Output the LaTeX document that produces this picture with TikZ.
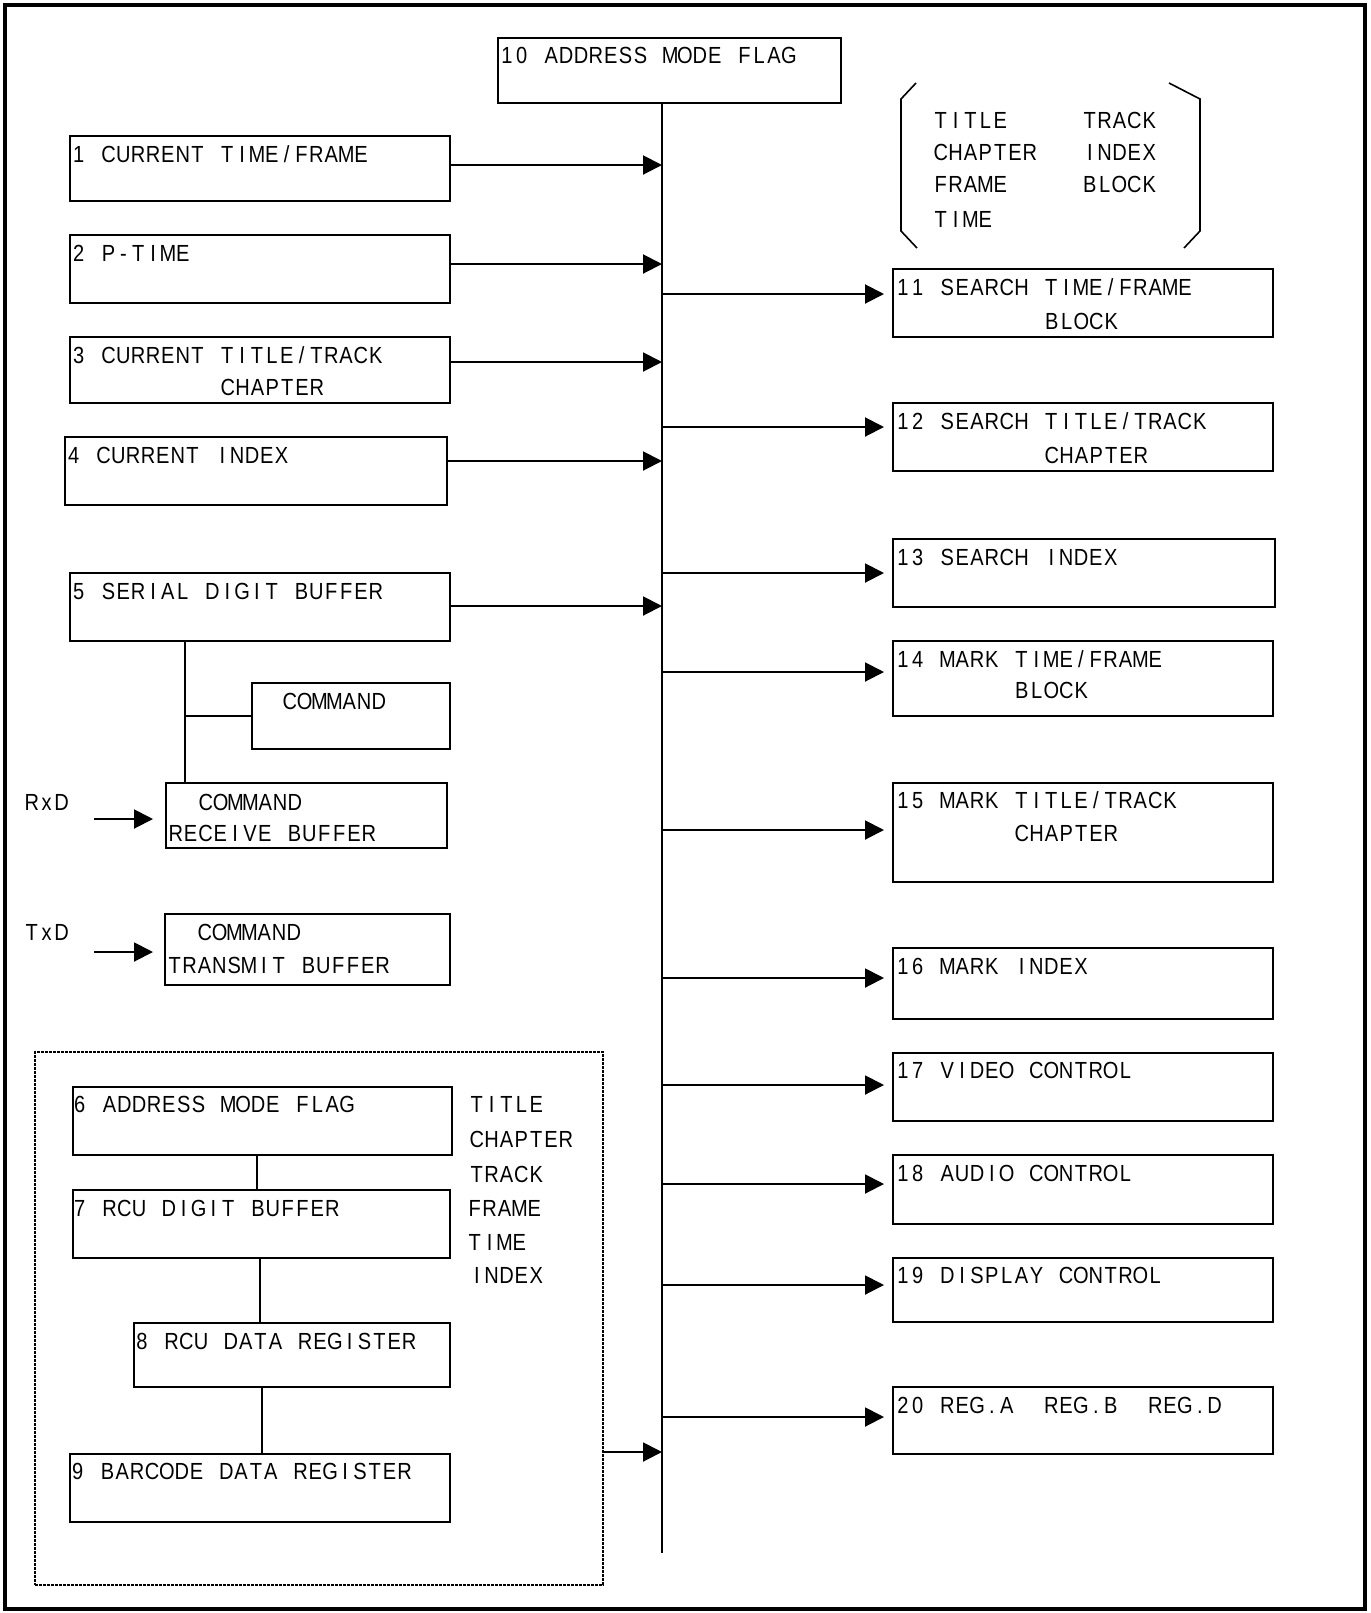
\documentclass[tikz,border=0pt]{standalone}
\usepackage{fontspec}
\newfontfamily\cellfont{Liberation Sans}[FakeStretch=0.86]
\usetikzlibrary{arrows.meta,fit}
% fixed-pitch lettering: every character sits centred in a cell of equal width
\makeatletter
\newdimen\cellpitch
\cellpitch=7.425pt
\def\cellend{\cellend}
\def\cellloop{\futurelet\cellnext\cellcheck}
\def\cellcheck{%
  \ifx\cellnext\cellend
    \expandafter\@gobble
  \else
    \ifx\cellnext\@sptoken
      \expandafter\expandafter\expandafter\cellspace
    \else
      \expandafter\expandafter\expandafter\cellchar
    \fi
  \fi}
\def\cellchar#1{\makebox[\cellpitch][c]{#1}\cellloop}
\@firstofone{\def\cellspace} {\hspace*{\cellpitch}\cellloop}
\newcommand\cells[1]{\cellloop#1\cellend}
\makeatother
\begin{document}
\begin{tikzpicture}[x=0.5pt,y=-0.5pt,
  box/.style={draw,line width=1pt,inner sep=0pt},
  lbl/.style={anchor=base west,inner sep=0pt,font=\cellfont\fontsize{11.66pt}{13pt}\selectfont},
  link/.style={line width=1pt},
  arr/.style={line width=1pt,-{Triangle[length=9.5pt,width=9.5pt]}},
  outarr/.style={arr,shorten >=4pt},
  brk/.style={line width=0.8pt},
  group/.style={draw,line width=1pt,inner sep=0pt,dash pattern=on 1.35pt off 0.65pt}]
\useasboundingbox (0,0) rectangle (1371,1613);
% outer frame
\draw[line width=1.75pt] (5,5) rectangle (1365,1609);

% ---------- boxes ----------
\node[box,fit={(498,38) (841,103)}] (b10) {};
\node[box,fit={(70,136) (450,201)}] (b1) {};
\node[box,fit={(70,235) (450,303)}] (b2) {};
\node[box,fit={(70,337) (450,403)}] (b3) {};
\node[box,fit={(65,437) (447,505)}] (b4) {};
\node[box,fit={(70,573) (450,641)}] (b5) {};
\node[box,fit={(252,683) (450,749)}] (bcmd) {};
\node[box,fit={(166,783) (447,848)}] (brx) {};
\node[box,fit={(165,914) (450,985)}] (btx) {};
\node[group,fit={(35,1052) (603,1585)}] (grp) {};
\node[box,fit={(73,1087) (452,1155)}] (b6) {};
\node[box,fit={(73,1190) (450,1258)}] (b7) {};
\node[box,fit={(134,1323) (450,1387)}] (b8) {};
\node[box,fit={(70,1454) (450,1522)}] (b9) {};
\node[box,fit={(893,269) (1273,337)}] (b11) {};
\node[box,fit={(893,403) (1273,471)}] (b12) {};
\node[box,fit={(893,539) (1275,607)}] (b13) {};
\node[box,fit={(893,641) (1273,716)}] (b14) {};
\node[box,fit={(893,783) (1273,882)}] (b15) {};
\node[box,fit={(893,948) (1273,1019)}] (b16) {};
\node[box,fit={(893,1053) (1273,1121)}] (b17) {};
\node[box,fit={(893,1155) (1273,1224)}] (b18) {};
\node[box,fit={(893,1258) (1273,1322)}] (b19) {};
\node[box,fit={(893,1387) (1273,1454)}] (b20) {};

% ---------- labels ----------
\node[lbl] (t10) at (499,63) {\cells{10 ADDRESS MODE FLAG}};
\node[lbl] (t1) at (71,162) {\cells{1 CURRENT TIME/FRAME}};
\node[lbl] (t2) at (71,261) {\cells{2 P-TIME}};
\node[lbl] (t3) at (71,363) {\cells{3 CURRENT TITLE/TRACK}};
\node[lbl] (t3b) at (220,395) {\cells{CHAPTER}};
\node[lbl] (t4) at (66,463) {\cells{4 CURRENT INDEX}};
\node[lbl] (t5) at (71,599) {\cells{5 SERIAL DIGIT BUFFER}};
\node[lbl] (tcmd) at (282,709) {\cells{COMMAND}};
\node[lbl] (trx) at (198,810) {\cells{COMMAND}};
\node[lbl] (trxb) at (168,841) {\cells{RECEIVE BUFFER}};
\node[lbl] (ttx) at (197,940) {\cells{COMMAND}};
\node[lbl] (ttxb) at (167,973) {\cells{TRANSMIT BUFFER}};
\node[lbl] (rxd) at (24,810) {\cells{RxD}};
\node[lbl] (txd) at (24,940) {\cells{TxD}};
\node[lbl] (t6) at (72,1112) {\cells{6 ADDRESS MODE FLAG}};
\node[lbl] (t7) at (72,1216) {\cells{7 RCU DIGIT BUFFER}};
\node[lbl] (t8) at (134,1349) {\cells{8 RCU DATA REGISTER}};
\node[lbl] (t9) at (70,1479) {\cells{9 BARCODE DATA REGISTER}};
\node[lbl] (m1) at (469,1112) {\cells{TITLE}};
\node[lbl] (m2) at (469,1147) {\cells{CHAPTER}};
\node[lbl] (m3) at (469,1182) {\cells{TRACK}};
\node[lbl] (m4) at (467,1216) {\cells{FRAME}};
\node[lbl] (m5) at (467,1250) {\cells{TIME}};
\node[lbl] (m6) at (469,1283) {\cells{INDEX}};
\node[lbl] (k1) at (933,128) {\cells{TITLE}};
\node[lbl] (k2) at (933,160) {\cells{CHAPTER}};
\node[lbl] (k3) at (933,192) {\cells{FRAME}};
\node[lbl] (k4) at (933,227) {\cells{TIME}};
\node[lbl] (k5) at (1082,128) {\cells{TRACK}};
\node[lbl] (k6) at (1082,160) {\cells{INDEX}};
\node[lbl] (k7) at (1082,192) {\cells{BLOCK}};
\node[lbl] (t11) at (895,295) {\cells{11 SEARCH TIME/FRAME}};
\node[lbl] (t11b) at (1044,329) {\cells{BLOCK}};
\node[lbl] (t12) at (895,429) {\cells{12 SEARCH TITLE/TRACK}};
\node[lbl] (t12b) at (1044,463) {\cells{CHAPTER}};
\node[lbl] (t13) at (895,565) {\cells{13 SEARCH INDEX}};
\node[lbl] (t14) at (895,667) {\cells{14 MARK TIME/FRAME}};
\node[lbl] (t14b) at (1014,698) {\cells{BLOCK}};
\node[lbl] (t15) at (895,808) {\cells{15 MARK TITLE/TRACK}};
\node[lbl] (t15b) at (1014,841) {\cells{CHAPTER}};
\node[lbl] (t16) at (895,974) {\cells{16 MARK INDEX}};
\node[lbl] (t17) at (895,1078) {\cells{17 VIDEO CONTROL}};
\node[lbl] (t18) at (895,1181) {\cells{18 AUDIO CONTROL}};
\node[lbl] (t19) at (895,1283) {\cells{19 DISPLAY CONTROL}};
\node[lbl] (t20) at (895,1413) {\cells{20 REG.A~~REG.B~~REG.D}};

% bracket around the address mode list
\draw[brk] (916,83) -- (901,99) -- (901,231) -- (917,248);
\draw[brk] (1169,83) -- (1200,99) -- (1200,231) -- (1184,248);

% ---------- bus ----------
\coordinate (busx) at (662,0);
\coordinate (busTop) at (busx |- b10.south);
\coordinate (busEnd) at (662,1553);
\draw[link] (busTop) -- (busEnd);

% inputs onto the bus
\coordinate (in1) at (662,165);
\coordinate (in2) at (662,264);
\coordinate (in3) at (662,362);
\coordinate (in4) at (662,461);
\coordinate (in5) at (662,606);
\coordinate (in9) at (662,1452);
\draw[arr] (b1.east |- in1) -- (in1);
\draw[arr] (b2.east |- in2) -- (in2);
\draw[arr] (b3.east |- in3) -- (in3);
\draw[arr] (b4.east |- in4) -- (in4);
\draw[arr] (b5.east |- in5) -- (in5);
\draw[arr] (grp.east |- in9) -- (in9);

% outputs from the bus
\coordinate (o11) at (662,294);
\coordinate (o12) at (662,427);
\coordinate (o13) at (662,573);
\coordinate (o14) at (662,672);
\coordinate (o15) at (662,830);
\coordinate (o16) at (662,978);
\coordinate (o17) at (662,1085);
\coordinate (o18) at (662,1184);
\coordinate (o19) at (662,1285);
\coordinate (o20) at (662,1417);
\draw[outarr] (o11) -- (b11.west |- o11);
\draw[outarr] (o12) -- (b12.west |- o12);
\draw[outarr] (o13) -- (b13.west |- o13);
\draw[outarr] (o14) -- (b14.west |- o14);
\draw[outarr] (o15) -- (b15.west |- o15);
\draw[outarr] (o16) -- (b16.west |- o16);
\draw[outarr] (o17) -- (b17.west |- o17);
\draw[outarr] (o18) -- (b18.west |- o18);
\draw[outarr] (o19) -- (b19.west |- o19);
\draw[outarr] (o20) -- (b20.west |- o20);

% serial buffer tree
\coordinate (tap) at (185,716);
\draw[link] (b5.south -| tap) -- (brx.north -| tap);
\draw[link] (tap) -- (bcmd.west |- tap);

% serial line inputs
\coordinate (rxs) at (94,819);
\coordinate (txs) at (94,952);
\draw[arr,shorten >=6pt] (rxs) -- (brx.west |- rxs);
\draw[arr,shorten >=5.5pt] (txs) -- (btx.west |- txs);

% RCU chain
\coordinate (c67) at (257,0);
\coordinate (c78) at (260,0);
\coordinate (c89) at (262,0);
\draw[link] (b6.south -| c67) -- (b7.north -| c67);
\draw[link] (b7.south -| c78) -- (b8.north -| c78);
\draw[link] (b8.south -| c89) -- (b9.north -| c89);
\end{tikzpicture}
\end{document}
